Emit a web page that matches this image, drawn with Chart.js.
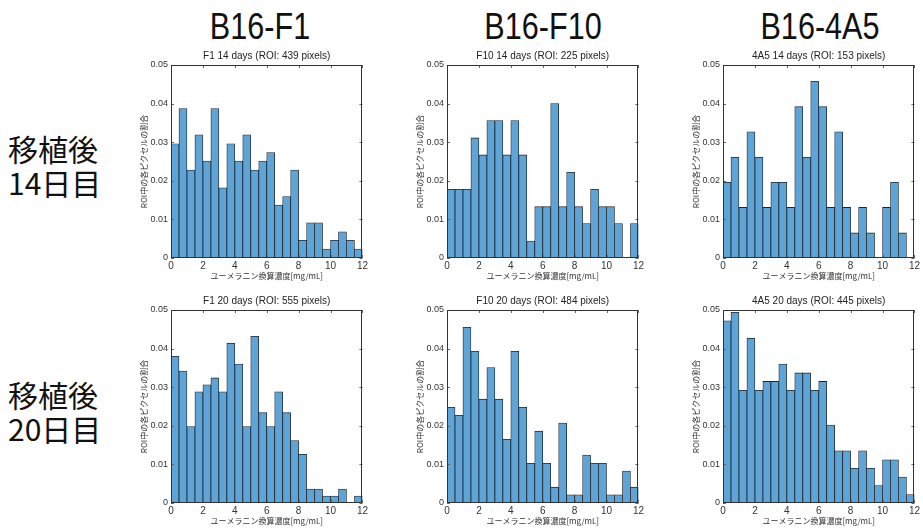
<!DOCTYPE html>
<html>
<head>
<meta charset="utf-8">
<script src="https://cdn.jsdelivr.net/npm/chart.js@4"></script>
<style>
body { margin: 0; width: 923px; height: 531px; background: #fff; position: relative; overflow: hidden; font-family: "Liberation Sans", Arial, sans-serif; }
.head { position: absolute; top: 5px; width: 200px; margin-left: -100px; text-align: center; font-size: 36px; line-height: 44px; color: #111; transform: scaleX(0.85); }
.rowlab { position: absolute; left: 8px; font-family: "Noto Sans CJK JP", sans-serif; font-size: 30px; line-height: 34px; color: #111; }
canvas { position: absolute; }
</style>
</head>
<body>
<div class="head" style="left:260px">B16-F1</div>
<div class="head" style="left:543px">B16-F10</div>
<div class="head" style="left:820px">B16-4A5</div>
<div class="rowlab" style="top:131px">移植後<br>14日目</div>
<div class="rowlab" style="top:377px">移植後<br>20日目</div>

<canvas id="c1" width="231" height="243" style="left:139px;top:45px"></canvas>
<canvas id="c2" width="231" height="243" style="left:415px;top:45px"></canvas>
<canvas id="c3" width="231" height="243" style="left:691px;top:45px"></canvas>
<canvas id="c4" width="231" height="243" style="left:139px;top:290px"></canvas>
<canvas id="c5" width="231" height="243" style="left:415px;top:290px"></canvas>
<canvas id="c6" width="231" height="243" style="left:691px;top:290px"></canvas>

<script>
// bin centres (mg/mL), bins are 0.5 wide
const binCenters = [0.25, 0.75, 1.25, 1.75, 2.25, 2.75, 3.25, 3.75, 4.25, 4.75, 5.25, 5.75,
    6.25, 6.75, 7.25, 7.75, 8.25, 8.75, 9.25, 9.75, 10.25, 10.75, 11.25, 11.75];

const f1Day14 = [0.0296, 0.0387, 0.0228, 0.0319, 0.0251, 0.0387, 0.0182, 0.0296, 0.0251, 0.0319, 0.0228, 0.0251,
    0.0273, 0.0137, 0.0159, 0.0228, 0.0046, 0.0091, 0.0091, 0.0023, 0.0046, 0.0068, 0.0046, 0.0023];
const f10Day14 = [0.0178, 0.0178, 0.0178, 0.0311, 0.0267, 0.0356, 0.0356, 0.0267, 0.0356, 0.0267, 0.0044, 0.0133,
    0.0133, 0.0400, 0.0133, 0.0222, 0.0133, 0.0089, 0.0178, 0.0133, 0.0133, 0.0089, 0, 0.0089];
const a45Day14 = [0.0196, 0.0261, 0.0131, 0.0327, 0.0261, 0.0131, 0.0196, 0.0196, 0.0131, 0.0392, 0.0261, 0.0458,
    0.0392, 0.0131, 0.0327, 0.0131, 0.0065, 0.0131, 0.0065, 0, 0.0131, 0.0196, 0.0065, 0];
const f1Day20 = [0.0380, 0.0342, 0.0198, 0.0288, 0.0306, 0.0324, 0.0288, 0.0414, 0.0360, 0.0198, 0.0432, 0.0234,
    0.0198, 0.0288, 0.0234, 0.0162, 0.0126, 0.0036, 0.0036, 0.0018, 0.0018, 0.0036, 0, 0.0018];
const f10Day20 = [0.0248, 0.0227, 0.0455, 0.0393, 0.0269, 0.0351, 0.0269, 0.0165, 0.0393, 0.0248, 0.0103, 0.0186,
    0.0103, 0.0041, 0.0207, 0.0021, 0.0021, 0.0124, 0.0103, 0.0103, 0.0021, 0.0021, 0.0083, 0.0041];
const a45Day20 = [0.0472, 0.0494, 0.0292, 0.0427, 0.0292, 0.0315, 0.0315, 0.0360, 0.0292, 0.0337, 0.0337, 0.0292,
    0.0315, 0.0202, 0.0135, 0.0135, 0.0090, 0.0135, 0.0090, 0.0045, 0.0112, 0.0112, 0.0067, 0.0022];

const xTicks = [0, 2, 4, 6, 8, 10, 12];
const yTicks = [0, 0.01, 0.02, 0.03, 0.04, 0.05];

const xTitle = 'ユーメラニン換算濃度[mg/mL]';
const yTitle = 'ROI中の各ピクセルの割合';

// matlab style box with inward ticks, title centred over the plot box
const boxTicks = {
    id: 'boxTicks',
    afterDatasetsDraw(chart, args, opts) {
        const { ctx, chartArea: a, scales: { x, y } } = chart;
        ctx.save();
        ctx.strokeStyle = '#666';
        ctx.lineWidth = 1;
        ctx.beginPath();
        xTicks.forEach(v => {
            const px = Math.round(x.getPixelForValue(v)) + 0.5;
            ctx.moveTo(px, a.bottom); ctx.lineTo(px, a.bottom - 3);
            ctx.moveTo(px, a.top); ctx.lineTo(px, a.top + 3);
        });
        yTicks.forEach(v => {
            const py = Math.round(y.getPixelForValue(v)) + 0.5;
            ctx.moveTo(a.left, py); ctx.lineTo(a.left + 3, py);
            ctx.moveTo(a.right, py); ctx.lineTo(a.right - 3, py);
        });
        ctx.stroke();
        ctx.strokeStyle = '#333';
        ctx.strokeRect(Math.round(a.left) + 0.5, Math.round(a.top) + 0.5,
            Math.round(a.right - a.left) - 1, Math.round(a.bottom - a.top) - 1);

        ctx.fillStyle = '#222';
        ctx.font = '10px "Liberation Sans", Arial';
        ctx.textAlign = 'center';
        ctx.textBaseline = 'middle';
        ctx.fillText(opts.text, (a.left + a.right) / 2, a.top - 9);
        ctx.restore();
    }
};

function histogram(id, title, values) {
    new Chart(document.getElementById(id), {
        type: 'bar',
        data: {
            datasets: [{
                data: binCenters.map((c, i) => ({ x: c, y: values[i] })),
                backgroundColor: 'rgb(94,164,215)',
                borderColor: '#1e2830',
                borderWidth: 0.8,
                barPercentage: 1,
                categoryPercentage: 1
            }]
        },
        options: {
            responsive: false,
            animation: false,
            layout: { padding: { left: 0, right: 6, top: 20, bottom: 0 } },
            plugins: {
                legend: { display: false },
                tooltip: { enabled: false },
                title: { display: false },
                boxTicks: { text: title }
            },
            scales: {
                x: {
                    type: 'linear', min: 0, max: 12, offset: false,
                    grid: { display: false, drawTicks: false },
                    border: { display: false },
                    afterBuildTicks: s => { s.ticks = xTicks.map(v => ({ value: v })); },
                    ticks: { padding: 2, color: '#333', maxRotation: 0, font: { size: 10, family: '"Liberation Sans", Arial' } },
                    title: { display: true, text: xTitle, color: '#333', font: { size: 8, family: '"Noto Sans CJK JP"' }, padding: { top: 0, bottom: 7 } },
                    afterFit: s => { s.height = 30; }
                },
                y: {
                    min: 0, max: 0.05,
                    grid: { display: false, drawTicks: false },
                    border: { display: false },
                    afterBuildTicks: s => { s.ticks = yTicks.map(v => ({ value: v })); },
                    ticks: {
                        padding: 3, color: '#333', font: { size: 9, family: '"Liberation Sans", Arial' },
                        callback: v => v === 0 ? '0' : v.toFixed(2)
                    },
                    title: { display: true, text: yTitle, color: '#333', font: { size: 8, family: '"Noto Sans CJK JP"' }, padding: { top: 0, bottom: 0 } },
                    afterFit: s => { s.width = 32; }
                }
            }
        },
        plugins: [boxTicks]
    });
}

histogram('c1', 'F1 14 days (ROI: 439 pixels)', f1Day14);
histogram('c2', 'F10 14 days (ROI: 225 pixels)', f10Day14);
histogram('c3', '4A5 14 days (ROI: 153 pixels)', a45Day14);
histogram('c4', 'F1 20 days (ROI: 555 pixels)', f1Day20);
histogram('c5', 'F10 20 days (ROI: 484 pixels)', f10Day20);
histogram('c6', '4A5 20 days (ROI: 445 pixels)', a45Day20);
</script>
</body>
</html>
